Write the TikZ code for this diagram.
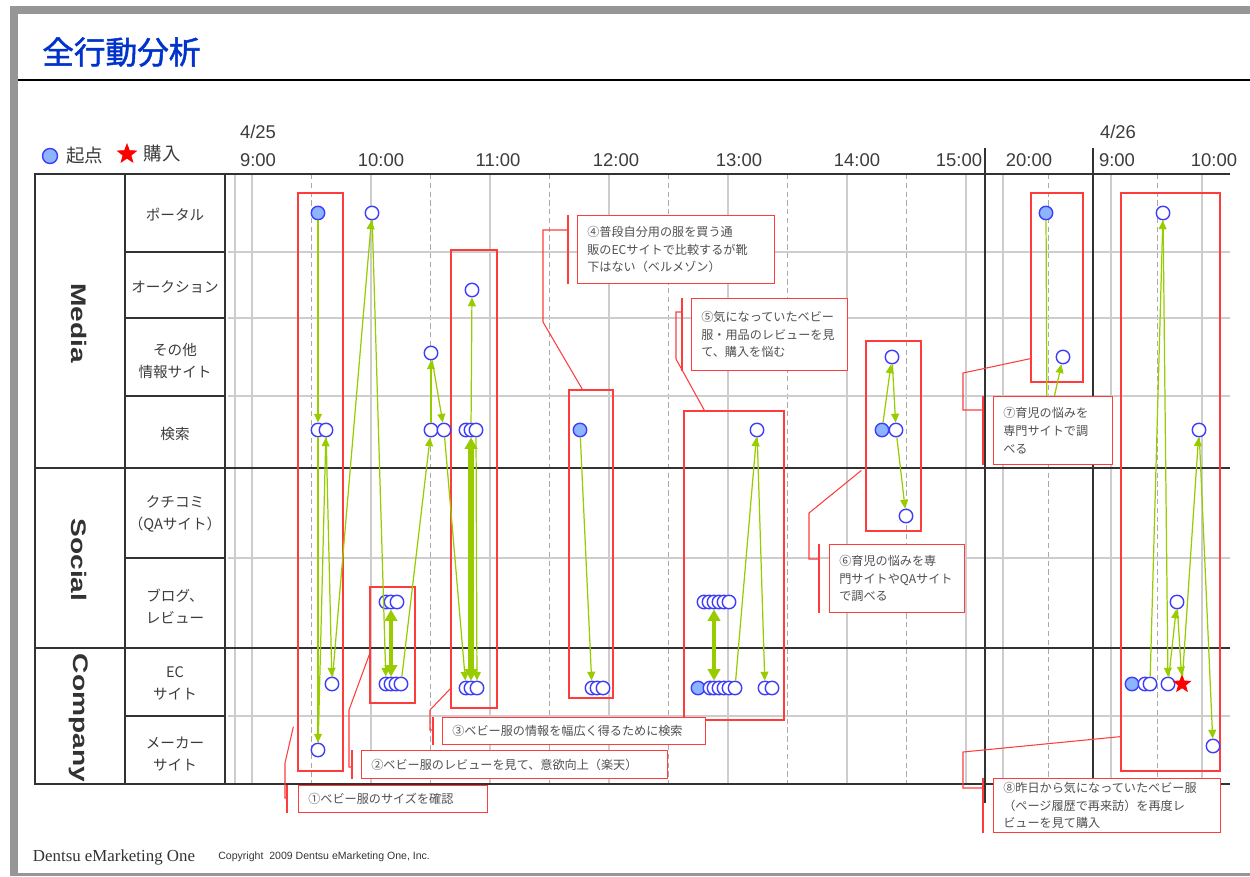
\documentclass[tikz,border=0pt]{standalone}
\usepackage{graphicx}
\usepackage{fontspec}
\setmainfont{Liberation Sans}
\newfontfamily\jp{Noto Sans CJK JP}
\newfontfamily\jptitle[FakeBold=1.6]{Noto Sans CJK JP}
\newfontfamily\brandfont{Liberation Serif}
\usetikzlibrary{arrows.meta,positioning,calc,shapes.geometric,fit}

\definecolor{titleblue}{RGB}{0,51,204}
\definecolor{framegray}{RGB}{150,150,150}
\definecolor{linedark}{RGB}{50,50,50}
\definecolor{gridgray}{RGB}{205,205,205}
\definecolor{dashgray}{RGB}{170,170,170}
\definecolor{ptblue}{RGB}{60,60,250}
\definecolor{ptfill}{RGB}{140,180,255}
\definecolor{flowgreen}{RGB}{153,204,0}
\definecolor{boxred}{RGB}{255,60,60}
\definecolor{notegray}{RGB}{80,80,80}
\definecolor{labgray}{RGB}{60,60,60}

\tikzset{
  visit/.style={circle,draw=ptblue,fill=white,line width=0.8pt,minimum size=0.27cm,inner sep=0pt},
  visitstart/.style={visit,fill=ptfill},
  buystar/.style={star,star points=5,star point ratio=2.4,draw=red,fill=red,inner sep=0pt},
  flow/.style={draw=flowgreen,line width=0.7pt,-{Triangle[length=5pt,width=4.5pt]}},
  bigflow/.style={draw=flowgreen,line width=2.6pt,{Triangle[length=6.5pt,width=7pt]}-{Triangle[length=6.5pt,width=7pt]}},
  grpbox/.style={draw=boxred,line width=0.7pt,inner sep=0pt},
  note/.style={draw=boxred,fill=white,line width=0.7pt,anchor=north west,align=left,inner xsep=5.5pt,inner ysep=1pt,text=notegray,font=\jp\fontsize{6.9}{10}\selectfont},
  lead/.style={draw=boxred,line width=0.6pt},
  tabline/.style={draw=linedark,line width=1.6pt},
  gridline/.style={draw=gridgray,line width=0.6pt},
  halfline/.style={draw=dashgray,line width=0.5pt,dash pattern=on 3pt off 2pt},
  rowlab/.style={font=\jp\fontsize{8.3}{12.4}\selectfont,align=center,text=labgray},
  timelab/.style={font=\fontsize{10.5}{12}\selectfont,text=labgray},
  grouplab/.style={rotate=-90,font=\bfseries\fontsize{16}{16}\selectfont,text=linedark}
}

\begin{document}
\begin{tikzpicture}[x=0.02cm,y=-0.02cm]
\useasboundingbox (0,0) rectangle (1250,876);
\fill[framegray] (10,6) rectangle (1250,14);
\fill[framegray] (10,6) rectangle (18,876);
\fill[framegray] (10,873) rectangle (1250,876);
\draw[line width=0.9pt] (18,80) -- (1250,80);
\node[font=\jptitle\fontsize{18}{18}\selectfont,text=titleblue,anchor=west,inner sep=0pt] (title) at (42,52) {全行動分析};

\node[visitstart,minimum size=0.3cm] (lg1) at (50,156) {};
\node[right=1pt of lg1,font=\jp\fontsize{10.5}{12}\selectfont,text=labgray] (lg1t) {起点};
\node[buystar,minimum size=0.4cm] (lg2) at (127,154) {};
\node[right=2.5pt of lg2,font=\jp\fontsize{10.5}{12}\selectfont,text=labgray] (lg2t) {購入};

\node[timelab] (d25) at (258,132) {4/25};
\node[timelab] (t9) at (258,160) {9:00};
\node[timelab] (t10) at (381,160) {10:00};
\node[timelab] (t11) at (498,160) {11:00};
\node[timelab] (t12) at (616,160) {12:00};
\node[timelab] (t13) at (739,160) {13:00};
\node[timelab] (t14) at (857,160) {14:00};
\node[timelab] (t15) at (959,160) {15:00};
\node[timelab] (t20) at (1029,160) {20:00};
\node[timelab] (d26) at (1118,132) {4/26};
\node[timelab] (u9) at (1117,160) {9:00};
\node[timelab] (u10) at (1214,160) {10:00};

\draw[gridline] (235,174) -- (235,784) (252,174) -- (252,784) (371,174) -- (371,784)
  (490,174) -- (490,784) (609,174) -- (609,784) (728,174) -- (728,784) (847,174) -- (847,784)
  (966,174) -- (966,784) (1003,174) -- (1003,784) (1111,174) -- (1111,784) (1202,174) -- (1202,784);
\draw[halfline] (311,174) -- (311,784) (430,174) -- (430,784) (549,174) -- (549,784)
  (668,174) -- (668,784) (787,174) -- (787,784) (906,174) -- (906,784)
  (1048,174) -- (1048,784) (1157,174) -- (1157,784);
\draw[gridline] (228,252) -- (1230,252) (228,318) -- (1230,318) (228,396) -- (1230,396)
  (228,558) -- (1230,558) (228,716) -- (1230,716);

\draw[tabline] (35,174) rectangle (225,784);
\draw[tabline] (125,174) -- (125,784);
\draw[tabline] (125,252) -- (225,252) (125,318) -- (225,318) (125,396) -- (225,396)
  (125,558) -- (225,558) (125,716) -- (225,716);
\draw[tabline] (225,174) -- (1230,174) (35,468) -- (1230,468) (35,648) -- (1230,648) (225,784) -- (1230,784);
\draw[tabline] (985,148) -- (985,803) (1093,148) -- (1093,784);

\node[grouplab] (media) at (79,323) {\scalebox{1}[0.75]{Media}};
\node[grouplab] (social) at (79,560) {\scalebox{1}[0.75]{Social}};
\node[grouplab] (company) at (79,718) {\scalebox{1}[0.75]{Company}};
\node[rowlab] (r1) at (175,215) {ポータル};
\node[rowlab] (r2) at (175,287) {オークション};
\node[rowlab] (r3) at (175,361) {その他\\情報サイト};
\node[rowlab] (r4) at (175,434) {検索};
\node[rowlab] (r5) at (175,514) {クチコミ\\（QAサイト）};
\node[rowlab] (r6) at (175,606) {ブログ、\\レビュー};
\node[rowlab] (r7) at (175,683) {EC\\サイト};
\node[rowlab] (r8) at (175,754) {メーカー\\サイト};

\node[grpbox,fit={(298,193) (343,771)}] (g1) {};
\node[grpbox,fit={(370,587) (415,703)}] (g2) {};
\node[grpbox,fit={(451,250) (497,708)}] (g3) {};
\node[grpbox,fit={(569,390) (613,698)}] (g4) {};
\node[grpbox,fit={(684,411) (784,720)}] (g5) {};
\node[grpbox,fit={(866,341) (921,531)}] (g6) {};
\node[grpbox,fit={(1031,193) (1083,382)}] (g7) {};
\node[grpbox,fit={(1121,193) (1220,771)}] (g8) {};

\node[visitstart] (a1) at (318,213) {};
\node[visit] (a2) at (318,430) {};
\node[visit] (a3) at (326,430) {};
\node[visit] (a4) at (332,684) {};
\node[visit] (a5) at (318,750) {};
\node[visit] (b1) at (372,213) {};
\node[visit] (b2) at (386,602) {};
\node[visit] (b3) at (391,602) {};
\node[visit] (b4) at (397,602) {};
\node[visit] (b5) at (386,684) {};
\node[visit] (b6) at (391,684) {};
\node[visit] (b7) at (396,684) {};
\node[visit] (b8) at (401,684) {};
\node[visit] (c1) at (431,430) {};
\node[visit] (c2) at (431,353) {};
\node[visit] (c3) at (444,430) {};
\node[visit] (d1) at (472,290) {};
\node[visit] (d2) at (466,430) {};
\node[visit] (d3) at (471,430) {};
\node[visit] (d4) at (476,430) {};
\node[visit] (d5) at (466,688) {};
\node[visit] (d6) at (471,688) {};
\node[visit] (d7) at (477,688) {};
\node[visitstart] (e1) at (580,430) {};
\node[visit] (e2) at (592,688) {};
\node[visit] (e3) at (597,688) {};
\node[visit] (e4) at (603,688) {};
\node[visit] (f1) at (757,430) {};
\node[visit] (f2) at (704,602) {};
\node[visit] (f3) at (709,602) {};
\node[visit] (f4) at (714,602) {};
\node[visit] (f5) at (719,602) {};
\node[visit] (f6) at (724,602) {};
\node[visit] (f7) at (729,602) {};
\node[visitstart] (f8) at (698,688) {};
\node[visit] (f9) at (710,688) {};
\node[visit] (f10) at (714,688) {};
\node[visit] (f11) at (719,688) {};
\node[visit] (f12) at (724,688) {};
\node[visit] (f13) at (729,688) {};
\node[visit] (f14) at (735,688) {};
\node[visit] (f15) at (765,688) {};
\node[visit] (f16) at (772,688) {};
\node[visitstart] (h1) at (882,430) {};
\node[visit] (h2) at (896,430) {};
\node[visit] (h3) at (892,357) {};
\node[visit] (h4) at (906,516) {};
\node[visitstart] (k1) at (1046,213) {};
\node[visit] (k2) at (1063,357) {};
\coordinate (k0) at (1047,430);
\node[visit] (m1) at (1163,213) {};
\node[visit] (m2) at (1199,430) {};
\node[visit] (m3) at (1177,602) {};
\node[visitstart] (m4) at (1132,684) {};
\node[visit] (m5) at (1145,684) {};
\node[visit] (m6) at (1150,684) {};
\node[visit] (m7) at (1168,684) {};
\node[buystar,minimum size=0.36cm] (m8) at (1182,684) {};
\node[visit] (m9) at (1213,746) {};

\draw[flow] (a1) -- (a2);
\draw[flow] (a2) -- (a5);
\draw[flow] (a5) -- (a3);
\draw[flow] (a3) -- (a4);
\draw[flow] (a4) -- (b1);
\draw[flow] (b1) -- (b5);
\draw[bigflow] (b3) -- (b6);
\draw[flow] (b8) -- (c1);
\draw[flow] (c1) -- (c2);
\draw[flow] (c2) -- (c3);
\draw[flow] (c3) -- (d5);
\draw[bigflow,line width=3.4pt] (d3) -- (d6);
\draw[flow] (d3) -- (d1);
\draw[flow] (d4) -- (d7);
\draw[flow] (e1) -- (e2);
\draw[bigflow] (f4) -- (f10);
\draw[flow] (f14) -- (f1);
\draw[flow] (f1) -- (f15);
\draw[flow] (h1) -- (h3);
\draw[flow] (h3) -- (h2);
\draw[flow] (h2) -- (h4);
\draw[flow] (k1) -- (k0) -- (k2);
\draw[flow] (m6) -- (m1);
\draw[flow] (m1) -- (m7);
\draw[flow] (m7) -- (m3);
\draw[flow] (m3) -- (m8);
\draw[flow] (m8) -- (m2);
\draw[flow] (m2) -- (m9);

\node[note,text width=3.39cm,minimum height=0.54cm] (n1) at (298,785) {①ベビー服のサイズを確認};
\node[note,text width=5.73cm,minimum height=0.56cm] (n2) at (361,750) {②ベビー服のレビューを見て、意欲向上（楽天）};
\node[note,text width=4.87cm,minimum height=0.54cm] (n3) at (442,717) {③ベビー服の情報を幅広く得るために検索};
\node[note,text width=3.55cm,minimum height=1.36cm] (n4) at (577,215) {④普段自分用の服を買う通\\販のECサイトで比較するが靴\\下はない（ベルメゾン）};
\node[note,text width=2.73cm,minimum height=1.44cm] (n5) at (691,298) {⑤気になっていたベビー\\服・用品のレビューを見\\て、購入を悩む};
\node[note,text width=2.31cm,minimum height=1.36cm] (n6) at (829,544) {⑥育児の悩みを専\\門サイトやQAサイト\\で調べる};
\node[note,text width=1.99cm,minimum height=1.36cm] (n7) at (993,396) {⑦育児の悩みを\\専門サイトで調\\べる};
\node[note,text width=4.15cm,minimum height=1.08cm] (n8) at (993,778) {⑧昨日から気になっていたベビー服\\（ページ履歴で再来訪）を再度レ\\ビューを見て購入};

\draw[lead] ($(n1.north west)+(-11,0)$) -- ($(n1.south west)+(-11,0)$);
\draw[lead] ($(n1.north west)+(-11,13)$) -- ++(-2,0) -- ++(0,-35) -- ($(g1.south west)+(-4,-45)$);
\draw[lead] ($(n2.north west)+(-9,0)$) -- ($(n2.south west)+(-9,0)$);
\draw[lead] ($(n2.north west)+(-9,17)$) -- ++(-3,0) -- ++(0,-57) -- ($(g2.north west)+(0,68)$);
\draw[lead] ($(n3.north west)+(-9,0)$) -- ($(n3.south west)+(-9,0)$);
\draw[lead] ($(n3.north west)+(-9,13)$) -- ++(-3,0) -- ++(0,-20) -- ($(g3.south west)+(0,-20)$);
\draw[lead] ($(n4.north west)+(-9,0)$) -- ($(n4.south west)+(-9,0)$);
\draw[lead] ($(n4.north west)+(-9,15)$) -- ++(-25,0) -- ++(0,92) -- ($(g4.north west)+(14,0)$);
\draw[lead] ($(n5.north west)+(-9,0)$) -- ($(n5.south west)+(-9,0)$);
\draw[lead] ($(n5.north west)+(-9,14)$) -- ++(-6,0) -- ++(0,47) -- ($(g5.north west)+(21,0)$);
\draw[lead] ($(n6.north west)+(-10,0)$) -- ($(n6.south west)+(-10,0)$);
\draw[lead] ($(n6.north west)+(-10,15)$) -- ++(-10,0) -- ++(0,-46) -- ($(g6.north west)+(-4,130)$);
\draw[lead] ($(n7.north west)+(-10,0)$) -- ($(n7.south west)+(-10,0)$);
\draw[lead] ($(n7.north west)+(-10,14)$) -- ++(-20,0) -- ++(0,-37) -- ($(g7.south west)+(0,-24)$);
\draw[lead] ($(n8.north west)+(-10,0)$) -- ($(n8.south west)+(-10,0)$);
\draw[lead] ($(n8.north west)+(-10,10)$) -- ++(-20,0) -- ++(0,-36) -- ($(g8.south west)+(0,-35)$);

\node[font=\brandfont\fontsize{9.6}{11}\selectfont,text=black!80] (brand) at (114,857) {Dentsu eMarketing One};
\node[font=\fontsize{6}{7}\selectfont,anchor=west,inner sep=0pt,text=black!80] (copy) at (218,857) {Copyright\ \ 2009 Dentsu eMarketing One, Inc.};
\end{tikzpicture}
\end{document}
